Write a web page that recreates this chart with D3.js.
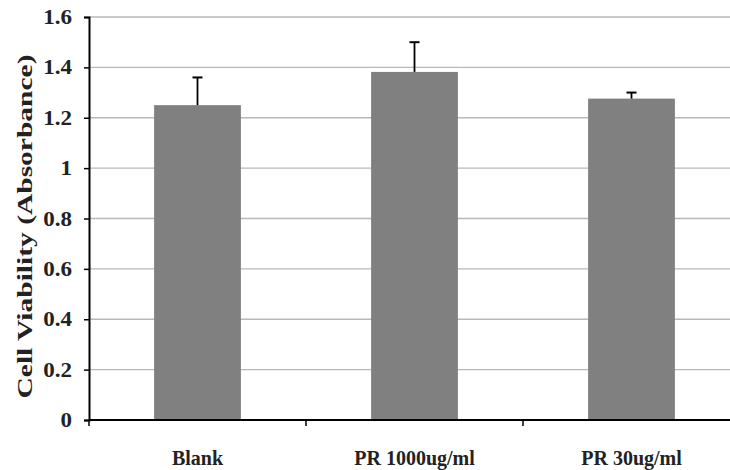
<!DOCTYPE html>
<html>
<head>
<meta charset="utf-8">
<script src="https://cdn.jsdelivr.net/npm/d3@7"></script>
<style>
  body { margin: 0; background: #fff; }
  text { font-family: "Liberation Serif", "Times New Roman", serif; font-weight: bold; }
</style>
</head>
<body>
<div id="chart-area"></div>
<script>
// data
let categories = ["Blank", "PR 1000ug/ml", "PR 30ug/ml"];
let values = [1.25, 1.382, 1.276];
let errors = [0.11, 0.118, 0.024];
let yTicks = [0, 0.2, 0.4, 0.6, 0.8, 1, 1.2, 1.4, 1.6];

let W = 730, H = 470;
let margin = {top: 17, right: -10, bottom: 50, left: 89};
let width = W - margin.left - margin.right,
    height = H - margin.top - margin.bottom;

let svg = d3.select("#chart-area").append("svg")
    .attr("width", W)
    .attr("height", H)
  .append("g")
    .attr("transform", "translate(" + margin.left + "," + margin.top + ")");

let x = d3.scaleBand()
    .domain(categories)
    .range([0, width])
    .paddingInner(0.6)
    .paddingOuter(0.3);

let y = d3.scaleLinear()
    .domain([0, 1.6])
    .range([height, 0]);

// the original text looks stretched sideways
function stretch(sel, k) {
  sel.each(function() {
    let len = this.getComputedTextLength();
    d3.select(this).attr("textLength", len * k).attr("lengthAdjust", "spacingAndGlyphs");
  });
}

// grid lines
svg.selectAll(".grid")
    .data(yTicks.filter(d => d > 0))
    .enter().append("line")
    .attr("class", "grid")
    .attr("x1", 0).attr("x2", width)
    .attr("y1", d => y(d)).attr("y2", d => y(d))
    .style("stroke", "#b8b8b8")
    .style("stroke-width", 1.3);

// bars
svg.selectAll(".bar")
    .data(values)
    .enter().append("rect")
    .attr("class", "bar")
    .attr("x", (d, i) => x(categories[i]))
    .attr("width", x.bandwidth())
    .attr("y", d => y(d))
    .attr("height", d => height - y(d))
    .style("fill", "#808080");

// error bars (upper only)
let err = svg.selectAll(".err")
    .data(values)
    .enter().append("g")
    .attr("class", "err")
    .attr("transform", (d, i) => "translate(" + (x(categories[i]) + x.bandwidth() / 2) + ",0)");

err.append("line")
    .attr("x1", 0).attr("x2", 0)
    .attr("y1", d => y(d))
    .attr("y2", (d, i) => y(d + errors[i]))
    .style("stroke", "#000").style("stroke-width", 1.8);

err.append("line")
    .attr("x1", -5).attr("x2", 5)
    .attr("y1", (d, i) => y(d + errors[i]))
    .attr("y2", (d, i) => y(d + errors[i]))
    .style("stroke", "#000").style("stroke-width", 2);

// y axis (labels drawn separately)
let yAxis = d3.axisLeft(y)
    .tickValues(yTicks)
    .tickSize(5)
    .tickFormat("");

let yAxisGroup = svg.append("g")
    .attr("class", "y-axis axis")
    .call(yAxis);

yAxisGroup.select(".domain").style("stroke-width", 2);
yAxisGroup.selectAll(".tick line").style("stroke-width", 1.5);

svg.selectAll(".ylabel")
    .data(yTicks)
    .enter().append("text")
    .attr("class", "ylabel")
    .attr("x", -17)
    .attr("y", d => y(d) + 7)
    .attr("text-anchor", "end")
    .attr("font-size", 20)
    .style("fill", "#222")
    .text(d => d3.format("~g")(d))
    .call(stretch, 1.15);

// x axis: ticks at band boundaries
let xAxisGroup = svg.append("g")
    .attr("class", "x-axis axis")
    .attr("transform", "translate(0," + height + ")");

xAxisGroup.append("line")
    .attr("x1", 0).attr("x2", width)
    .style("stroke", "#000").style("stroke-width", 2);

let step = x.step();
xAxisGroup.selectAll(".xtick")
    .data(categories)
    .enter().append("line")
    .attr("class", "xtick")
    .attr("x1", d => x(d) - step * 0.3)
    .attr("x2", d => x(d) - step * 0.3)
    .attr("y1", 0).attr("y2", 6)
    .style("stroke", "#000").style("stroke-width", 1.5);

xAxisGroup.selectAll(".xlabel")
    .data(categories)
    .enter().append("text")
    .attr("class", "xlabel")
    .attr("x", d => x(d) + x.bandwidth() / 2)
    .attr("y", 45)
    .attr("text-anchor", "middle")
    .attr("font-size", 20)
    .style("fill", "#222")
    .text(d => d);

// y title
svg.append("text")
    .attr("transform", "translate(-57," + (height / 2 + 8) + ") rotate(-90)")
    .attr("text-anchor", "middle")
    .attr("font-size", 22)
    .style("fill", "#222")
    .text("Cell Viability (Absorbance)")
    .call(stretch, 1.34);
</script>
</body>
</html>
